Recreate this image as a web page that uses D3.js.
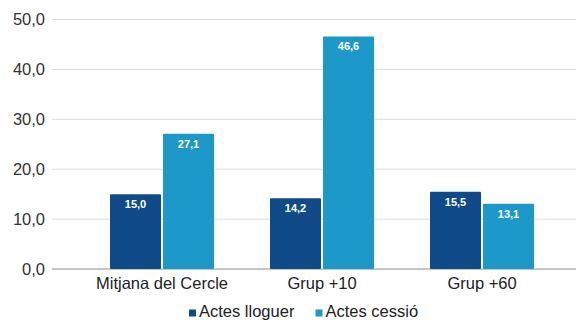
<!DOCTYPE html>
<html><head><meta charset="utf-8">
<script src="https://cdn.jsdelivr.net/npm/d3@7"></script>
<style>body{margin:0;background:#fff}svg{display:block;font-family:"Liberation Sans",Arial,sans-serif}</style>
</head><body><svg id="c" width="581" height="322"></svg>
<script>
const categories = ["Mitjana del Cercle", "Grup +10", "Grup +60"];
const seriesNames = ["Actes lloguer", "Actes cessió"];
const lloguer = [15.0, 14.2, 15.5];
const cessio = [27.1, 46.6, 13.1];
const yTicks = [0, 10, 20, 30, 40, 50];
const colors = ["#114a89", "#1c98c9"];

const svg = d3.select("#c");
const fmt = v => d3.format(".1f")(v).replace(".", ",");
const y = d3.scaleLinear().domain([0, 50]).range([269, 19.5]);
const x0 = d3.scaleBand().domain(categories).range([110, 534]).paddingInner(0.35).paddingOuter(0);
const x1 = d3.scaleBand().domain(seriesNames).range([0, x0.bandwidth()]).paddingInner(2/53);

// gridlines
svg.append("g").selectAll("line").data(yTicks).join("line")
  .attr("x1", 52).attr("x2", 576)
  .attr("y1", d => y(d)).attr("y2", d => y(d))
  .attr("stroke", d => d === 0 ? "#8c8c8c" : "#dcdcdc").attr("stroke-width", 1);

// y axis labels
const yAxis = d3.axisLeft(y).tickValues(yTicks).tickFormat(fmt).tickSize(0).tickPadding(0);
const ga = svg.append("g").attr("transform", "translate(45,0)").call(yAxis);
ga.select(".domain").remove();
ga.selectAll("text").attr("font-size", 16.5).attr("fill", "#333").attr("font-family", "Liberation Sans, Arial, sans-serif");

// bars
const data = categories.map((c, i) => ({cat: c, vals: [{s: seriesNames[0], v: lloguer[i], k: 0}, {s: seriesNames[1], v: cessio[i], k: 1}]}));
const g = svg.append("g").selectAll("g").data(data).join("g")
  .attr("transform", d => `translate(${x0(d.cat)},0)`);
g.selectAll("rect").data(d => d.vals).join("rect")
  .attr("x", d => x1(d.s)).attr("width", x1.bandwidth())
  .attr("y", d => y(d.v)).attr("height", d => y(0) - y(d.v))
  .attr("fill", d => colors[d.k]).attr("rx", 1);
g.selectAll("text").data(d => d.vals).join("text")
  .attr("x", d => x1(d.s) + x1.bandwidth() / 2)
  .attr("y", d => y(d.v) + 14)
  .attr("text-anchor", "middle").attr("font-size", 11).attr("font-weight", "bold")
  .attr("fill", "#fff").text(d => fmt(d.v));

// x axis labels
const xAxis = d3.axisBottom(x0).tickSize(0).tickPadding(0);
const gx = svg.append("g").attr("transform", "translate(0,277)").call(xAxis);
gx.select(".domain").remove();
gx.selectAll("text").attr("font-size", 16.5).attr("fill", "#222").attr("font-family", "Liberation Sans, Arial, sans-serif");

// legend
const legendX = [189, 315.5];
const lg = svg.append("g").selectAll("g").data(seriesNames).join("g")
  .attr("transform", (d, i) => `translate(${legendX[i]},0)`);
lg.append("rect").attr("x", 0).attr("y", 309.5).attr("width", 7).attr("height", 7)
  .attr("fill", (d, i) => colors[i]);
lg.append("text").attr("x", 10).attr("y", 317).attr("font-size", 16.5).attr("fill", "#222").text(d => d);
</script></body></html>
